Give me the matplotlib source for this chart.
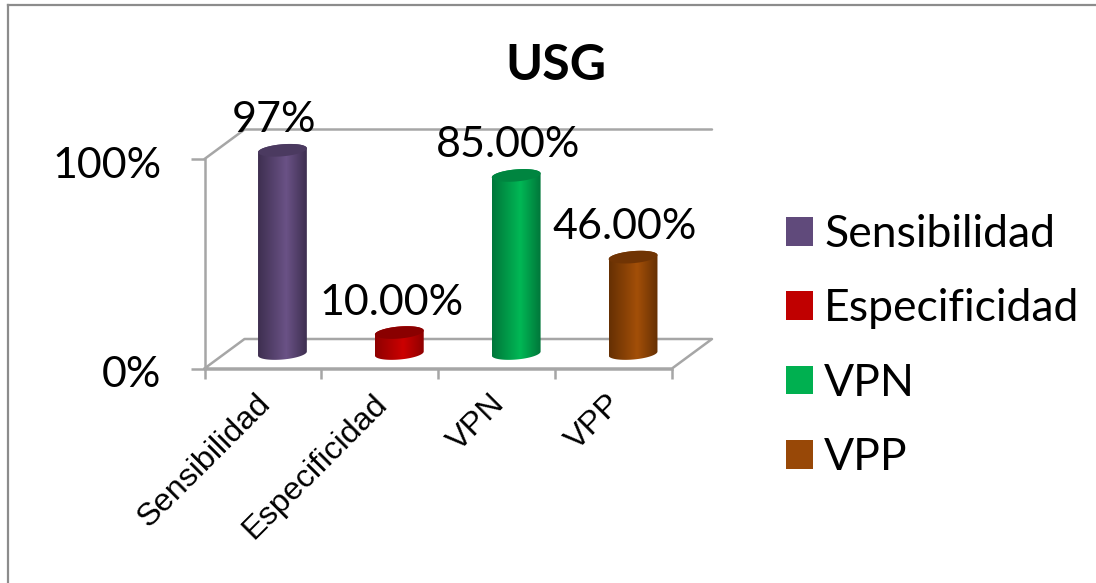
import numpy as np
import matplotlib
matplotlib.use("Agg")
import matplotlib.pyplot as plt
from matplotlib.colors import LinearSegmentedColormap
from matplotlib.lines import Line2D
from matplotlib.patches import PathPatch, Polygon, Rectangle
from matplotlib.path import Path
from matplotlib.transforms import ScaledTranslation

categories = ["Sensibilidad", "Especificidad", "VPN", "VPP"]
values = [97, 10, 85, 46]
value_labels = ["97%", "10.00%", "85.00%", "46.00%"]
y_ticks = [0, 100]
y_tick_labels = ["0%", "100%"]

body_centre = ["#6A5286", "#CC0000", "#00B855", "#A34F08"]
body_edge = ["#3E2F50", "#8E0000", "#00763A", "#663003"]
cap_colour = ["#4B3A60", "#8A0000", "#008540", "#703404"]
legend_colour = ["#604A7B", "#C00000", "#00B050", "#984807"]

W, H = 1096, 583
GREY = "#A6A6A6"
SANS = "Lato"

fig = plt.figure(figsize=(W / 100, H / 100), dpi=100, facecolor="white")

# Plot box of the front plane, in pixels
left, right, top, bottom = 204.5, 672.0, 159.0, 368.5
ax = fig.add_axes([left / W, 1 - bottom / H, (right - left) / W, (bottom - top) / H])
ax.set_xlim(0, len(categories))
ax.set_ylim(0, 100)
ax.patch.set_alpha(0)

ux = len(categories) / (right - left)   # data units per pixel, x
uy = 100 / (bottom - top)               # data units per pixel, y


def px(dx, dy):
    return dx * ux, dy * uy


# Floor and back wall of the 3-D box
depth_x, depth_y = px(40, 29.5)
n = len(categories)
wall = dict(color=GREY, lw=1.8, clip_on=False, zorder=1, solid_capstyle="round")
ax.plot([0, depth_x, n + depth_x], [100, 100 + depth_y, 100 + depth_y], **wall)
ax.plot([0, depth_x, n + depth_x, n, 0],
        [0, depth_y, depth_y, 0, 0], **wall)


# Cylinders: half-way back in the box, shaded across their width
half_w, half_h, tilt = 24.5, 6.0, np.deg2rad(5)


def ellipse(cx, cy, t):
    ex = half_w * np.cos(t) * np.cos(tilt) - half_h * np.sin(t) * np.sin(tilt)
    ey = half_w * np.cos(t) * np.sin(tilt) + half_h * np.sin(t) * np.cos(tilt)
    ox, oy = px(ex, ey)
    return np.column_stack([cx + ox, cy + oy])


base_x, base_y = px(19.5, 15)
for i, value in enumerate(values):
    cx = i + 0.5 + base_x
    lower = ellipse(cx, base_y, np.linspace(np.pi, 2 * np.pi, 60))
    upper = ellipse(cx, base_y + value, np.linspace(0, np.pi, 60))
    outline = np.vstack([lower, upper])
    clip = PathPatch(Path(np.vstack([outline, outline[:1]])), transform=ax.transData,
                     fc="none", ec="none", clip_on=False)
    ax.add_patch(clip)
    cmap = LinearSegmentedColormap.from_list(
        "cyl", [(0, body_edge[i]), (0.58, body_centre[i]), (1, body_edge[i])])
    xl, xr = outline[:, 0].min(), outline[:, 0].max()
    yl, yr = outline[:, 1].min(), outline[:, 1].max()
    img = ax.imshow(np.linspace(0, 1, 128)[None, :], cmap=cmap, aspect="auto",
                    extent=(xl, xr, yl, yr), interpolation="bilinear", zorder=3)
    # The tallest cylinder rises above the front plane, so clip only to its outline
    img.set_clip_box(fig.bbox)
    img.set_clip_path(clip)
    ax.add_patch(Polygon(ellipse(cx, base_y + value, np.linspace(0, 2 * np.pi, 120)),
                         closed=True, fc=cap_colour[i], ec="none", zorder=4, clip_on=False))
    ax.annotate(value_labels[i], xy=(cx, base_y + value),
                xytext=(-8 * 0.72, 30 * 0.72), textcoords="offset points",
                ha="center", va="center", fontsize=31, family=SANS,
                color="black", zorder=5, annotation_clip=False)

ax.set_xlim(0, n)
ax.set_ylim(0, 100)

# Axes, ticks and tick labels
for side in ("top", "right"):
    ax.spines[side].set_visible(False)
for side in ("left", "bottom"):
    ax.spines[side].set_color(GREY)
    ax.spines[side].set_linewidth(1.8)
ax.set_yticks(y_ticks, y_tick_labels, fontsize=31, family=SANS)
ax.tick_params(axis="y", length=10, width=1.8, color=GREY, pad=21)
down = ScaledTranslation(0, -2.5 / 72, fig.dpi_scale_trans)
for label in ax.get_yticklabels():
    label.set_transform(label.get_transform() + down)
ax.set_xticks(np.arange(n + 1), [""] * (n + 1))
ax.tick_params(axis="x", which="major", length=7.5, width=1.8, color=GREY)
ax.set_xticks(np.arange(n) + 0.5, categories, minor=True, rotation=45,
              ha="right", va="center", rotation_mode="anchor",
              fontsize=23.3, family="Liberation Sans")
ax.tick_params(axis="x", which="minor", length=0, pad=0)
shift = ScaledTranslation(2.4 / 72, -22 / 72, fig.dpi_scale_trans)
for label in ax.get_xticklabels(minor=True):
    label.set_transform(label.get_transform() + shift)

# Title
fig.text(556 / W, 1 - 65 / H, "USG", ha="center", va="center",
         fontsize=36, fontweight="bold", family=SANS)

# Legend
handles = [Rectangle((0, 0), 1, 1, fc=c, ec="none") for c in legend_colour]
leg = fig.legend(handles, categories, loc="upper left",
                 bbox_to_anchor=(786 / W, 1 - 214 / H), bbox_transform=fig.transFigure,
                 frameon=False, borderpad=0, borderaxespad=0,
                 handlelength=0.61, handleheight=0.61, handletextpad=0.25,
                 labelspacing=0.75, prop={"family": SANS, "size": 32})

# Chart-area border: only the top and left edges fall inside the frame
border = dict(color="#8C8C8C", lw=1.6, transform=fig.transFigure)
fig.add_artist(Line2D([7.5 / W, 1], [1 - 5 / H, 1 - 5 / H], **border))
fig.add_artist(Line2D([7.5 / W, 7.5 / W], [1 - 5 / H, 0], **border))

fig.savefig("out.png", dpi=100, facecolor="white")
